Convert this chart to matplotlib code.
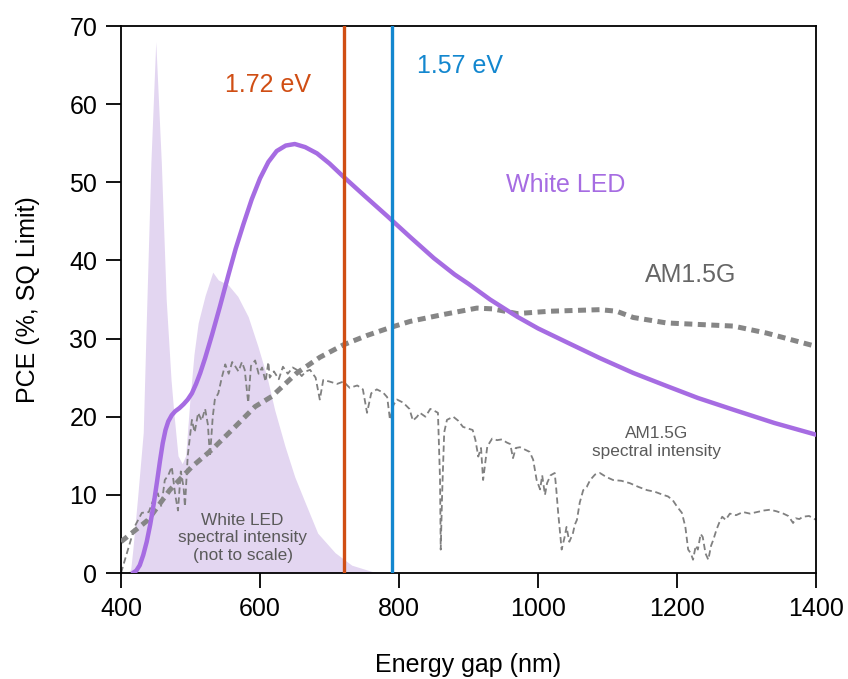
import numpy as np
import matplotlib
matplotlib.use("Agg")
import matplotlib.pyplot as plt

plt.rcParams["font.family"] = ["Liberation Sans", "DejaVu Sans"]

# White LED emission spectrum (arbitrary scale, drawn in PCE units)
led_nm = [410, 414, 417, 424, 432, 436, 443, 450, 458, 465, 472, 476, 482, 488,
          493, 499, 505, 511, 521, 532, 540, 554, 568, 583, 597, 610, 621, 636,
          650, 665, 683, 708, 732, 761, 780]
led_int = [0, 0.5, 3, 9.8, 18, 31, 52.5, 68, 52.5, 35, 24.7, 20.5, 15, 14,
           15, 22, 28, 32, 35.5, 38.5, 37.5, 36.9, 35.4, 32.8, 29, 25.1, 20.9, 16.2,
           12.3, 9, 5.1, 2.6, 1.0, 0.2, 0]

# SQ-limit PCE under white LED
pce_led_nm = [417, 422, 427, 432, 437, 442, 447, 452, 456, 460, 464, 468, 473,
              478, 484, 490, 496, 502, 508, 514, 521, 531, 542, 555, 565, 576,
              588, 600, 612, 624, 637, 650, 665, 682, 700, 719, 750, 784, 816,
              850, 880, 900, 931, 970, 1000, 1042, 1089, 1137, 1186, 1230, 1281,
              1340, 1400]
pce_led = [0, 0.3, 1, 2.3, 4, 6.2, 8.8, 11.8, 14.3, 16.6, 18.3, 19.4, 20.2,
           20.7, 21.1, 21.6, 22.2, 23, 24.2, 25.6, 27.5, 30.5, 34, 38.3, 41.5, 44.6,
           47.8, 50.5, 52.6, 54, 54.7, 54.9, 54.5, 53.7, 52.4, 50.8, 48.3, 45.6, 43,
           40.3, 38.2, 37, 35, 32.8, 31.3, 29.5, 27.5, 25.6, 23.9, 22.4, 20.9,
           19.2, 17.7]

# SQ-limit PCE under AM1.5G
pce_am_nm = [400, 439, 470, 502, 531, 564, 593, 617, 653, 686, 720, 754, 787,
             816, 859, 912, 935, 970, 1017, 1089, 1113, 1137, 1185, 1281, 1329, 1400]
pce_am = [4, 6.8, 10.6, 13.6, 15.8, 18.7, 21.3, 22.6, 25.6, 27.6, 29.2, 30.4, 31.4,
          32.2, 33, 33.9, 33.8, 33.2, 33.5, 33.7, 33.5, 32.7, 32, 31.6, 30.7, 29]

# AM1.5G solar spectrum (arbitrary scale)
am_nm = [400, 410, 420, 430, 440, 447, 453, 458, 463, 468, 473, 478, 482, 486,
         490, 492, 496, 502, 506, 511, 516, 521, 525, 528, 532, 535, 540, 545,
         550, 555, 560, 564, 569, 574, 578, 583, 587, 593, 598, 603, 608, 612,
         614, 620, 627, 633, 640, 647, 653, 660, 666, 672, 680, 686, 691, 700,
         711, 720, 729, 740, 748, 754, 760, 768, 777, 783, 787, 792, 797, 806,
         815, 820, 826, 830, 838, 845, 850, 856, 859, 860, 862, 865, 869, 878,
         885, 892, 899, 906, 910, 914, 918, 921, 924, 927, 934, 941, 948, 955,
         960, 964, 968, 974, 981, 988, 993, 998, 1003, 1006, 1010, 1013, 1018,
         1024, 1026, 1029, 1034, 1038, 1041, 1045, 1050, 1053, 1056, 1060, 1065,
         1070, 1075, 1082, 1089, 1098, 1108, 1120, 1132, 1145, 1157, 1168, 1180,
         1187, 1194, 1200, 1207, 1212, 1216, 1220, 1223, 1227, 1230, 1234, 1237,
         1241, 1245, 1249, 1252, 1257, 1261, 1265, 1270, 1276, 1285, 1295, 1305,
         1315, 1325, 1334, 1343, 1353, 1360, 1364, 1367, 1371, 1376, 1381, 1390,
         1400]
am_int = [0, 3, 6, 7.7, 7.8, 9.5, 10.2, 8.5, 11.9, 12.5, 13.6, 10, 8, 13,
          11, 8.5, 15, 19.6, 18, 20.5, 19.5, 21, 19, 14.9, 20, 22.2, 23, 25,
          26.7, 25.5, 27, 26.5, 25.8, 27, 26, 21.8, 26.5, 27.2, 25.5, 26.3, 24.5, 27,
          25, 25.8, 24.8, 26.4, 25.5, 26.3, 26, 25.2, 25.8, 26, 25, 22.2, 24.7, 24.5,
          24.2, 24.5, 23.7, 24, 23.5, 20.5, 23, 23.5, 23.1, 22.5, 19.6, 21.5, 22.2, 21.8,
          21, 19.5, 20, 20.5, 20, 21, 20.8, 20.5, 12, 3, 10, 18, 19.6, 20,
          19.5, 18.7, 18.5, 18.3, 17, 14.9, 16, 11.9, 14, 16.2, 17.2, 17, 17.1, 16.7,
          16.5, 14.7, 16, 16.1, 15.8, 15.5, 14.5, 11.9, 10.7, 12.5, 10, 11.5, 12.5,
          12.8, 11, 7.7, 3, 4.5, 5.9, 4, 5, 6.2, 6.8, 9, 10.6,
          11, 11.9, 12.6, 12.8, 12.3, 11.9, 11.8, 11.5, 11, 10.6, 10.4, 10,
          9.8, 9.3, 8.5, 7.7, 5.9, 3, 2.5, 1.7, 3.5, 3, 5, 4.6,
          2.5, 1.7, 3.5, 4.2, 5.6, 6.5, 7.2, 6.8, 7.6, 7.4, 7.8, 7.6,
          7.8, 8, 8.1, 7.9, 7.6, 7.3, 6.8, 6.4, 7, 6.9, 7.2, 7.3,
          6.8]

# band gaps of the two absorbers
gaps_ev = [1.72, 1.57]
gap_colors = ["#D04E14", "#1387CF"]

purple = "#A66CE2"
grey = "#868686"

fig = plt.figure(figsize=(8.48, 6.79), dpi=100)
ax = fig.add_axes([0.1427, 0.1561, 0.8196, 0.8056])

ax.fill_between(led_nm, led_int, 0, color="#E3D6F1", lw=0, zorder=1)
ax.plot(am_nm, am_int, color="#808080", lw=1.3, ls=(0, (3.5, 2)), zorder=2)
ax.plot(pce_am_nm, pce_am, color=grey, lw=3.6, ls=(0, (1.6, 1.1)),
        dash_capstyle="butt", zorder=3)
ax.plot(pce_led_nm, pce_led, color=purple, lw=3.2, solid_capstyle="round",
        solid_joinstyle="round", zorder=4)

for ev, c in zip(gaps_ev, gap_colors):
    ax.axvline(1240 / ev, color=c, lw=2.4, zorder=5)

ax.text(611, 62.4, "1.72 eV", color=gap_colors[0], fontsize=18, ha="center", va="center")
ax.text(888, 64.9, "1.57 eV", color=gap_colors[1], fontsize=18, ha="center", va="center")
ax.text(1040, 49.7, "White LED", color=purple, fontsize=18, ha="center", va="center")
ax.text(1219, 38.1, "AM1.5G", color="#666666", fontsize=18, ha="center", va="center")
ax.text(575, 4.5, "White LED\nspectral intensity\n(not to scale)", color="#5a5a5a",
        fontsize=12.4, ha="center", va="center", linespacing=1.2, zorder=6)
ax.text(1171, 16.7, "AM1.5G\nspectral intensity", color="#5a5a5a",
        fontsize=12.4, ha="center", va="center", linespacing=1.2, zorder=6)

ax.set_xlim(400, 1400)
ax.set_ylim(0, 70)
ax.set_xticks(np.arange(400, 1401, 200))
ax.set_yticks(np.arange(0, 71, 10))
ax.tick_params(direction="out", length=11, width=1.3, labelsize=18, pad=6)
for s in ax.spines.values():
    s.set_linewidth(1.3)
ax.set_xlabel("Energy gap (nm)", fontsize=18, labelpad=23)
ax.set_ylabel("PCE (%, SQ Limit)", fontsize=18, labelpad=21)

fig.savefig("out.png", dpi=100)
